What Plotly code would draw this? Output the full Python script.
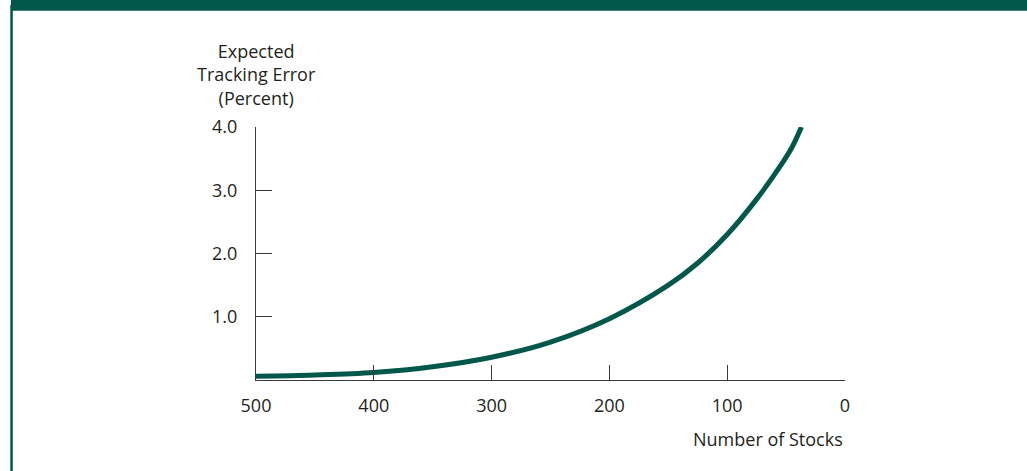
import plotly.graph_objects as go

# number of stocks held vs expected tracking error (%)
stocks = [500, 450, 400, 350, 300, 250, 200, 150, 125, 100, 75, 55, 45, 37]
tracking_error = [0.06, 0.08, 0.12, 0.21, 0.36, 0.6, 0.97, 1.5, 1.85, 2.3, 2.86, 3.38, 3.68, 4.0]

x_ticks = [500, 400, 300, 200, 100, 0]
y_ticks = [1.0, 2.0, 3.0, 4.0]
y_tick_text = ["1.0", "2.0", "3.0", "4.0"]

green = "#01584a"
ink = "#231f20"
axis_col = "#3a3a3a"

W, H = 1027, 471
L, R, T, B = 256, 845, 127, 380


def px_x(p):
    return (p - L) / (R - L)


def px_y(p):
    return (B - p) / (B - T)


fig = go.Figure()
fig.add_trace(go.Scatter(x=stocks, y=tracking_error, mode="lines",
                         line=dict(color=green, width=5, shape="spline", smoothing=1.0),
                         cliponaxis=False, hoverinfo="skip"))

fig.update_xaxes(range=[500, 0], tickvals=x_ticks, ticktext=[str(v) for v in x_ticks],
                 showgrid=False, zeroline=False, showline=True, linecolor=axis_col, linewidth=1.3,
                 ticks="inside", ticklen=15, tickcolor=axis_col, tickwidth=1.3,
                 ticklabelstandoff=9, tickfont=dict(size=18, color=ink))
fig.update_yaxes(range=[0, 4.0], tickvals=y_ticks, ticktext=y_tick_text,
                 showgrid=False, zeroline=False, showline=True, linecolor=axis_col, linewidth=1.3,
                 ticks="inside", ticklen=16, tickcolor=axis_col, tickwidth=1.3,
                 ticklabelstandoff=14, tickfont=dict(size=18, color=ink))

# frame: green band on top and thin green rule on the left
fig.add_shape(type="rect", xref="paper", yref="paper",
              x0=px_x(11), x1=px_x(W + 5), y0=px_y(10.7), y1=px_y(-5),
              fillcolor=green, line_width=0, layer="above")
fig.add_shape(type="rect", xref="paper", yref="paper",
              x0=px_x(10.3), x1=px_x(12.8), y0=px_y(H + 5), y1=px_y(5),
              fillcolor=green, line_width=0, layer="above")

fig.add_annotation(text="Expected<br>Tracking Error<br>(Percent)", xref="paper", yref="paper",
                   x=px_x(256), y=px_y(74), xanchor="center", yanchor="middle",
                   showarrow=False, align="center", font=dict(size=18, color=ink))
fig.add_annotation(text="Number of Stocks", xref="paper", yref="paper",
                   x=px_x(845), y=px_y(439), xanchor="right", yanchor="middle",
                   showarrow=False, font=dict(size=18, color=ink))

fig.update_layout(width=W, height=H, showlegend=False,
                  margin=dict(l=L, r=W - R, t=T, b=H - B),
                  paper_bgcolor="white", plot_bgcolor="white",
                  font=dict(family="Open Sans, sans-serif", color=ink))

fig.write_html("out.html", config={"displayModeBar": False},
               post_script="document.body.style.margin='0px';document.body.style.overflow='hidden';")
